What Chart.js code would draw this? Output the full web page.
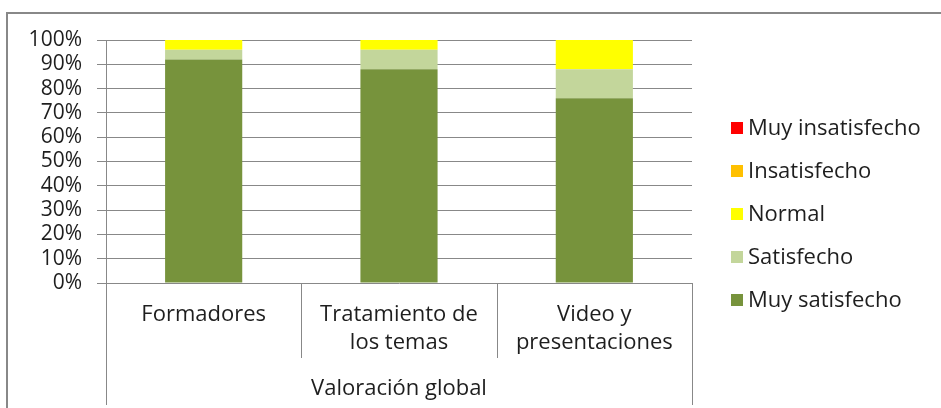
<!DOCTYPE html>
<html>
<head>
<meta charset="utf-8">
<script src="https://cdn.jsdelivr.net/npm/chart.js@4"></script>
<style>
  html, body { margin: 0; padding: 0; background: #fff; }
  #wrap { width: 941px; height: 408px; }
</style>
</head>
<body>
<div id="wrap"><canvas id="chart" width="941" height="408"></canvas></div>
<script>
// categories and values (% of answers)
let categories = [['Formadores'], ['Tratamiento de', 'los temas'], ['Video y', 'presentaciones']]
let groupLabel = 'Valoración global'
let muySatisfecho = [92, 88, 76]
let satisfecho = [4, 8, 12]
let normal = [4, 4, 12]
let insatisfecho = [0, 0, 0]
let muyInsatisfecho = [0, 0, 0]
let yTicks = [0, 10, 20, 30, 40, 50, 60, 70, 80, 90, 100]

let fontFamily = "'Open Sans', sans-serif"
let textColor = '#1e1e1e'
let lineColor = '#888888'

// outer frame, category separators and a drawn legend
let decorations = {
  id: 'decorations',
  beforeDraw(chart) {
    let ctx = chart.ctx
    ctx.save()
    ctx.strokeStyle = lineColor
    ctx.lineWidth = 2
    ctx.beginPath()
    ctx.moveTo(7, 408)
    ctx.lineTo(7, 13)
    ctx.lineTo(941, 13)
    ctx.stroke()
    ctx.restore()
  },
  afterDraw(chart) {
    let ctx = chart.ctx
    let x = chart.scales.x
    let area = chart.chartArea
    let n = chart.data.labels.length
    ctx.save()
    ctx.strokeStyle = lineColor
    ctx.lineWidth = 1
    for (let i = 0; i <= n; i++) {
      let px
      if (i == 0) px = area.left
      else if (i == n) px = area.right
      else px = (x.getPixelForValue(i - 1) + x.getPixelForValue(i)) / 2
      px = Math.round(px) + 0.5
      let bottom = (i == 0 || i == n) ? 405 : 358
      ctx.beginPath()
      ctx.moveTo(px, area.bottom)
      ctx.lineTo(px, bottom)
      ctx.stroke()
    }
    // legend, top item = last dataset
    ctx.font = '22px ' + fontFamily
    ctx.textBaseline = 'middle'
    let ds = chart.data.datasets.slice().reverse()
    ds.forEach((d, i) => {
      let cy = 128 + i * 43
      ctx.fillStyle = d.backgroundColor
      ctx.fillRect(731, cy - 6, 12, 12)
      ctx.fillStyle = textColor
      ctx.fillText(d.label, 748, cy + 1)
    })
    ctx.restore()
  }
}

let chart1 = document.getElementById('chart')
let valoracion = new Chart(chart1, {
  type: 'bar',
  data: {
    labels: categories,
    datasets: [
      { label: 'Muy satisfecho', data: muySatisfecho, backgroundColor: '#77933C' },
      { label: 'Satisfecho', data: satisfecho, backgroundColor: '#C3D69B' },
      { label: 'Normal', data: normal, backgroundColor: '#FFFF00' },
      { label: 'Insatisfecho', data: insatisfecho, backgroundColor: '#FFC000' },
      { label: 'Muy insatisfecho', data: muyInsatisfecho, backgroundColor: '#FF0000' }
    ]
  },
  options: {
    responsive: false,
    animation: false,
    layout: { padding: { left: 0, top: 40, right: 249, bottom: 0 } },
    datasets: { bar: { barPercentage: 0.395, categoryPercentage: 1 } },
    plugins: {
      legend: { display: false },
      tooltip: { enabled: false }
    },
    scales: {
      x: {
        stacked: true,
        grid: { display: false },
        border: { display: false },
        ticks: {
          color: textColor,
          font: { family: fontFamily, size: 22, lineHeight: 1.27 },
          padding: 10,
          maxRotation: 0,
          autoSkip: false
        },
        title: {
          display: true,
          text: groupLabel,
          color: textColor,
          font: { family: fontFamily, size: 22 },
          padding: { top: 8, bottom: 6 }
        },
        afterFit: s => { s.height = 408 - 283 }
      },
      y: {
        stacked: true,
        min: 0,
        max: 100,
        afterBuildTicks: s => { s.ticks = yTicks.map(v => ({ value: v })) },
        grid: { color: lineColor, tickLength: 9 },
        border: { color: lineColor },
        ticks: {
          color: textColor,
          font: { family: fontFamily, size: 21 },
          padding: 15,
          autoSkip: false,
          callback: v => v + '%'
        },
        afterFit: s => { s.width = 106 }
      }
    }
  },
  plugins: [decorations]
})
</script>
</body>
</html>
